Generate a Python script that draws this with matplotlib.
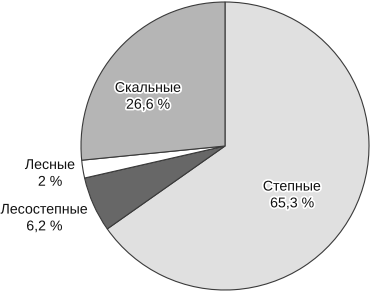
import matplotlib
matplotlib.use('Agg')
import matplotlib.pyplot as plt
import matplotlib.patheffects as pe

# Data
labels = ['Степные', 'Лесостепные', 'Лесные', 'Скальные']
values = [65.3, 6.2, 2.0, 26.6]
value_text = ['65,3 %', '6,2 %', '2 %', '26,6 %']
colors = ['#e0e0e0', '#676767', '#ffffff', '#b5b5b5']

plt.rcParams['font.family'] = ['Liberation Sans', 'DejaVu Sans']

fig = plt.figure(figsize=(3.72, 2.93), dpi=100)
# Axes placed so the pie fills the right part of the figure
ax = fig.add_axes([81 / 372, 3 / 293, 288 / 372, 288 / 293])

wedges, _ = ax.pie(values, colors=colors, startangle=90, counterclock=False,
                   radius=1.0,
                   wedgeprops=dict(edgecolor='#3a3a3a', linewidth=0.8))
ax.set_xlim(-1, 1)
ax.set_ylim(-1, 1)
ax.set_aspect('equal')
ax.axis('off')

# Label positions (data coordinates)
label_pos = [(0.465, -0.34), (-1.255, -0.50), (-1.215, -0.19), (-0.535, 0.345)]
halo = [pe.withStroke(linewidth=2.5, foreground='white')]
for name, txt, (x, y) in zip(labels, value_text, label_pos):
    ax.text(x, y, name + '\n' + txt, ha='center', va='center', fontsize=10.2,
            linespacing=1.25, color='#111111', clip_on=False, path_effects=halo)

fig.savefig('out.png', dpi=100)
